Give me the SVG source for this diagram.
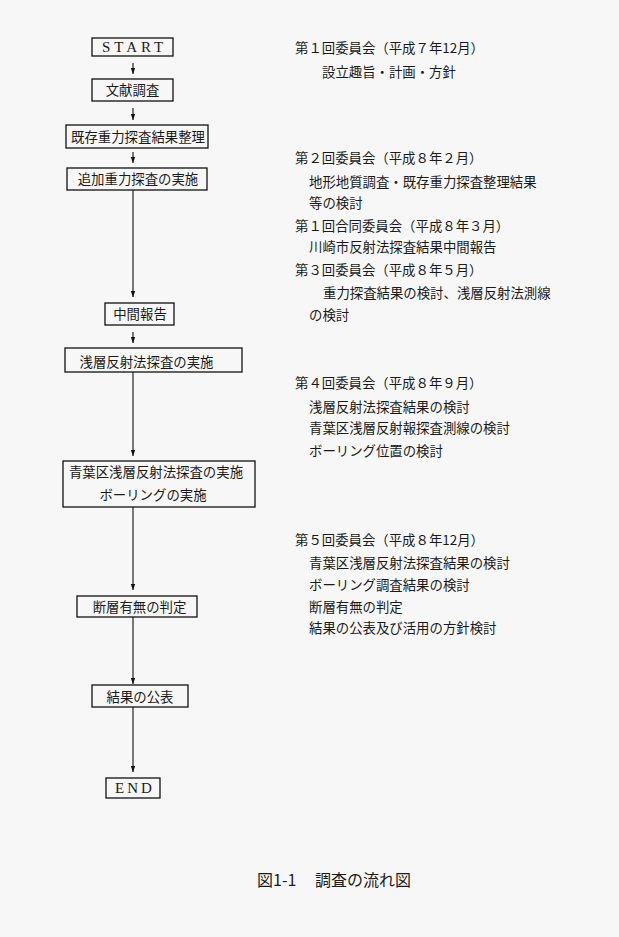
<svg xmlns="http://www.w3.org/2000/svg" width="619" height="937" viewBox="0 0 619 937">
<style>
.bx{fill:none;stroke:#111;stroke-width:1.3}
.jt{font-family:"Noto Sans CJK JP","Noto Sans",sans-serif;font-size:13.4px;fill:#1a1a1a}
.bt{font-family:"Noto Sans CJK JP","Noto Sans",sans-serif;font-size:13.4px;fill:#1a1a1a;text-anchor:middle}
.lt{font-family:"Liberation Serif",serif;font-size:15px;fill:#1a1a1a;text-anchor:middle}
.cn{stroke:#111;stroke-width:1.1;fill:none;marker-end:url(#ah)}
.cap{font-family:"Noto Sans CJK JP","Noto Sans",sans-serif;font-size:16px;fill:#1a1a1a}
</style>
<defs>
<marker id="ah" viewBox="0 0 6 6" refX="6" refY="3" markerWidth="6" markerHeight="6" markerUnits="userSpaceOnUse" orient="auto">
<path d="M0,0.8 L6,3 L0,5.2 Z" fill="#111"/>
</marker>
</defs>
<rect width="619" height="937" fill="#f7f7f7"/>
<g id="connectors">
<line class="cn" x1="133" y1="63" x2="133" y2="74"/>
<line class="cn" x1="133" y1="108" x2="133" y2="120"/>
<line class="cn" x1="133" y1="152" x2="133" y2="163"/>
<line class="cn" x1="133" y1="190" x2="133" y2="297"/>
<line class="cn" x1="133" y1="332" x2="133" y2="343"/>
<line class="cn" x1="133" y1="372" x2="133" y2="456"/>
<line class="cn" x1="133" y1="507" x2="133" y2="590"/>
<line class="cn" x1="133" y1="617" x2="133" y2="684"/>
<line class="cn" x1="133" y1="707" x2="133" y2="772"/>
</g>
<g id="start"><rect class="bx" x="92" y="38" width="81" height="18"/><text class="lt" x="134.5" y="52" letter-spacing="3.9">START</text></g>
<g id="bunken"><rect class="bx" x="92" y="79" width="81" height="22"/><text class="bt" x="132.5" y="95">文献調査</text></g>
<g id="kizon"><rect class="bx" x="66" y="125" width="142" height="23"/><text class="bt" x="138" y="141.5">既存重力探査結果整理</text></g>
<g id="tsuika"><rect class="bx" x="67" y="168" width="140" height="22"/><text class="bt" x="138" y="184">追加重力探査の実施</text></g>
<g id="chukan"><rect class="bx" x="105" y="303" width="69" height="22"/><text class="bt" x="140" y="319">中間報告</text></g>
<g id="senso"><rect class="bx" x="65" y="348" width="177" height="24"/><text class="bt" x="146.5" y="366.5">浅層反射法探査の実施</text></g>
<g id="aoba"><rect class="bx" x="63" y="461" width="192" height="46"/><text class="bt" x="156" y="477">青葉区浅層反射法探査の実施</text><text class="bt" x="153" y="500">ボーリングの実施</text></g>
<g id="dansou"><rect class="bx" x="77" y="596" width="120" height="21"/><text class="bt" x="139.5" y="611.5">断層有無の判定</text></g>
<g id="kekka"><rect class="bx" x="92" y="685" width="96" height="22"/><text class="bt" x="140" y="701.5">結果の公表</text></g>
<g id="end"><rect class="bx" x="106" y="778" width="54" height="20"/><text class="lt" x="135" y="793" letter-spacing="3.1">END</text></g>
<g id="notes">
<text class="jt" x="295" y="53">第１回委員会（平成７年12月）</text>
<text class="jt" x="322" y="77">設立趣旨・計画・方針</text>
<text class="jt" x="295" y="163">第２回委員会（平成８年２月）</text>
<text class="jt" x="309" y="187">地形地質調査・既存重力探査整理結果</text>
<text class="jt" x="309" y="208">等の検討</text>
<text class="jt" x="295" y="231">第１回合同委員会（平成８年３月）</text>
<text class="jt" x="309" y="252">川崎市反射法探査結果中間報告</text>
<text class="jt" x="295" y="275">第３回委員会（平成８年５月）</text>
<text class="jt" x="323" y="298">重力探査結果の検討、浅層反射法測線</text>
<text class="jt" x="309" y="320">の検討</text>
<text class="jt" x="295" y="388">第４回委員会（平成８年９月）</text>
<text class="jt" x="309" y="412">浅層反射法探査結果の検討</text>
<text class="jt" x="309" y="433">青葉区浅層反射報探査測線の検討</text>
<text class="jt" x="309" y="456">ボーリング位置の検討</text>
<text class="jt" x="295" y="545">第５回委員会（平成８年12月）</text>
<text class="jt" x="309" y="568">青葉区浅層反射法探査結果の検討</text>
<text class="jt" x="309" y="590">ボーリング調査結果の検討</text>
<text class="jt" x="309" y="612">断層有無の判定</text>
<text class="jt" x="309" y="633">結果の公表及び活用の方針検討</text>
</g>
<g id="caption">
<text class="cap" x="257" y="886">図1-1</text>
<text class="cap" x="315" y="886">調査の流れ図</text>
</g>
</svg>
